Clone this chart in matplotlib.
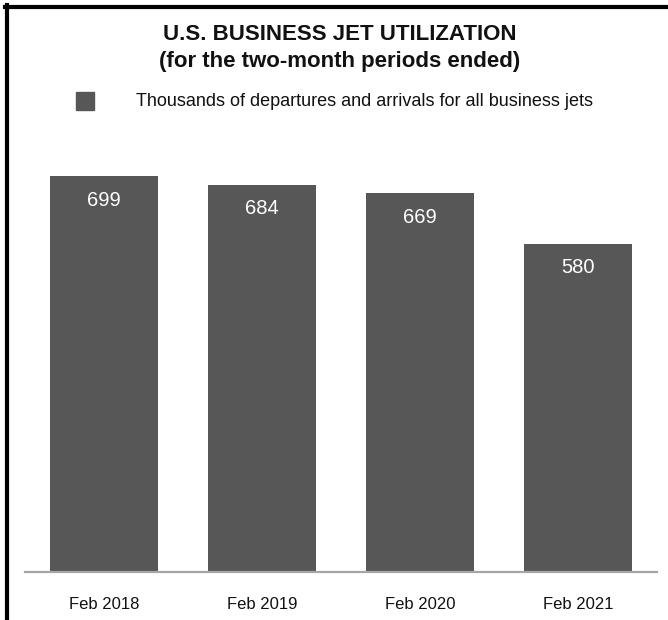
import matplotlib
matplotlib.use('Agg')
import matplotlib.pyplot as plt
import matplotlib.patches as mpatches
import matplotlib.lines as mlines

# Two-month utilization counts (thousands of departures and arrivals)
periods = ['Feb 2018', 'Feb 2019', 'Feb 2020', 'Feb 2021']
departures = [699, 684, 669, 580]

BAR = '#575757'
AXIS = '#A6A6A6'

plt.rcParams['font.family'] = ['Liberation Sans', 'DejaVu Sans']

W, H = 668, 620
fig = plt.figure(figsize=(W / 100, H / 100), dpi=100)

# axes placed so the baseline sits near the bottom with room for the header
ax = fig.add_axes([25 / W, 1 - 572 / H, 632 / W, 441.5 / H])
x = range(len(periods))
bars = ax.bar(x, departures, width=0.684, color=BAR, zorder=2)
ax.set_xlim(-0.5, len(periods) - 0.5)
ax.set_ylim(0, 780)

for b, v in zip(bars, departures):
    ax.annotate(f'{v}', (b.get_x() + b.get_width() / 2, v),
                xytext=(0, -17.3), textcoords='offset points',
                ha='center', va='center', color='white', fontsize=14.5)

for s in ['top', 'right', 'left']:
    ax.spines[s].set_visible(False)
ax.spines['bottom'].set_color(AXIS)
ax.spines['bottom'].set_linewidth(1.6)
ax.set_yticks([])
ax.set_xticks(list(x))
ax.set_xticklabels(periods, fontsize=12, color='#111111')
ax.tick_params(axis='x', length=0, pad=18)

# header text
fig.text(340 / W, 1 - 35 / H, 'U.S. BUSINESS JET UTILIZATION',
         ha='center', va='center', fontsize=16, fontweight='bold', color='#111111')
fig.text(340 / W, 1 - 61 / H, '(for the two-month periods ended)',
         ha='center', va='center', fontsize=16, fontweight='bold', color='#111111')

# legend key
fig.patches.append(mpatches.Rectangle((76 / W, 1 - 110 / H), 18 / W, 18 / H,
                                      transform=fig.transFigure, color=BAR))
fig.text(136 / W, 1 - 101 / H, 'Thousands of departures and arrivals for all business jets',
         ha='left', va='center', fontsize=13, color='#111111')

# frame lines on top and left
fig.add_artist(mlines.Line2D([5 / W, 1], [1 - 7 / H, 1 - 7 / H],
                             transform=fig.transFigure, color='black', linewidth=3))
fig.add_artist(mlines.Line2D([7 / W, 7 / W], [0, 1 - 5 / H],
                             transform=fig.transFigure, color='black', linewidth=3))

fig.savefig('out.png', dpi=100, facecolor='white')
